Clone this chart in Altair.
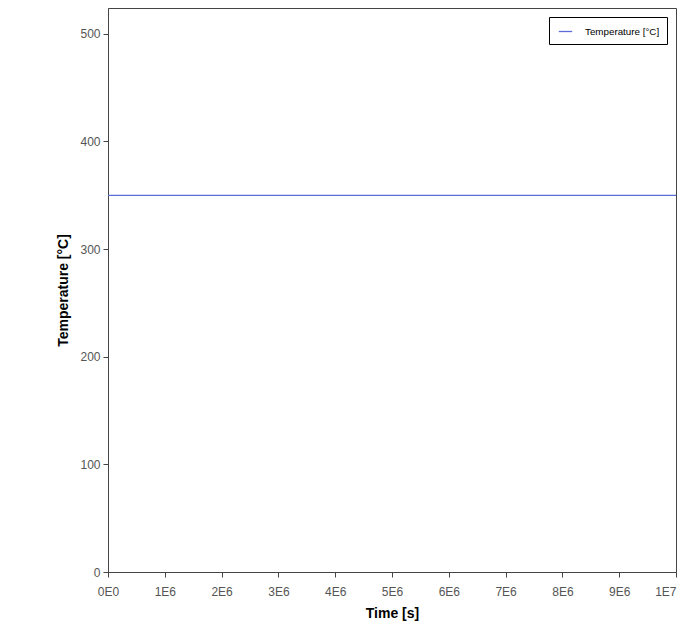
import altair as alt
import pandas as pd

times = [0, 2.5e6, 5e6, 7.5e6, 1e7]
temps = [350, 350, 350, 350, 350]
series = ["Temperature [°C]"] * len(times)
x_ticks = [0, 1e6, 2e6, 3e6, 4e6, 5e6, 6e6, 7e6, 8e6, 9e6, 1e7]
x_labels = ["0E0", "1E6", "2E6", "3E6", "4E6", "5E6", "6E6", "7E6", "8E6", "9E6", "1E7"]
y_ticks = [0, 100, 200, 300, 400, 500]

df = pd.DataFrame({"time": times, "temp": temps, "series": series})

label_arr = "[" + ",".join("'" + s + "'" for s in x_labels) + "]"

font = "Liberation Sans"

chart = alt.Chart(df).mark_line(strokeWidth=1.3).encode(
    x=alt.X("time:Q", title="Time [s]",
            scale=alt.Scale(domain=[0, 1e7], nice=False, zero=False),
            axis=alt.Axis(values=x_ticks, labelExpr=label_arr + "[round(datum.value/1000000)]",
                          grid=False, tickSize=5, labelPadding=9, titlePadding=9,
                          labelFlush=False,
                          labelAlign={"condition": {"test": "datum.value >= 10000000", "value": "right"},
                                      "value": "center"},
                          labelFontSize=12, titleFontSize=14, titleFontWeight="bold",
                          labelColor="#555555", titleColor="#000000",
                          domainColor="#444444", tickColor="#444444", labelFont=font, titleFont=font)),
    y=alt.Y("temp:Q", title="Temperature [°C]",
            scale=alt.Scale(domain=[0, 524], nice=False),
            axis=alt.Axis(values=y_ticks, grid=False, tickSize=5, labelPadding=3, titlePadding=9,
                          labelFlush=False,
                          labelFontSize=12, titleFontSize=14, titleFontWeight="bold",
                          labelColor="#555555", titleColor="#000000",
                          domainColor="#444444", tickColor="#444444", labelFont=font, titleFont=font)),
    color=alt.Color("series:N", scale=alt.Scale(range=["#5d6dd8"]),
                    legend=alt.Legend(title=None, orient="none", legendX=441, legendY=9,
                                      symbolType="stroke", symbolSize=180, symbolStrokeWidth=1.3,
                                      labelFontSize=9.8, labelFont=font, labelColor="#000000",
                                      strokeColor="#000000", padding=7, symbolOffset=2,
                                      labelOffset=12, fillColor="white")),
).properties(
    width=568, height=564,
    autosize=alt.AutoSizeParams(type="none"),
    padding={"left": 100, "top": 0, "right": 3, "bottom": 52},
).configure_view(stroke="#444444", strokeWidth=1)

chart.save("out.html", embed_options={"renderer": "svg", "actions": False})
